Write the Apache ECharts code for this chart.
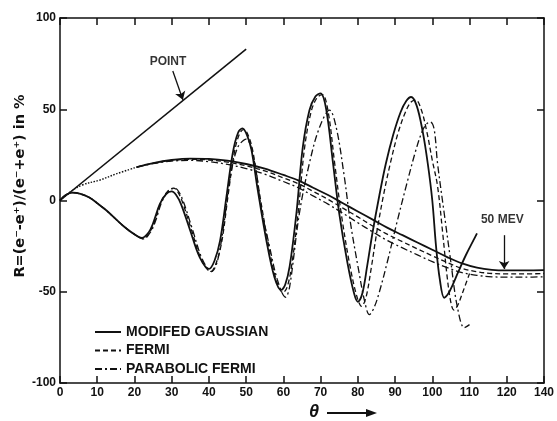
<!DOCTYPE html>
<html>
<head>
<meta charset="utf-8">
<script src="https://cdn.jsdelivr.net/npm/echarts@6/dist/echarts.min.js"></script>
<style>
  html, body { margin: 0; padding: 0; background: #fff; }
  #chart { width: 557px; height: 421px; }
</style>
</head>
<body>
<div id="chart"></div>
<script>
// tick labels (the original figure labels the right edge "140")
var xTickLabels = ['0', '10', '20', '30', '40', '50', '60', '70', '80', '90', '100', '110', '120', '140'];
var legendNames = ['MODIFED GAUSSIAN', 'FERMI', 'PARABOLIC FERMI'];

// point charge line
var pointLine = [[0, 0], [50, 83]];

// smooth 50 MeV curves (dotted common start, then three curves)
var smoothStart = [[0, 0], [2.7, 4.6], [6, 8.5], [10.7, 11.2], [15, 14.5], [20.6, 18.3]];
var smoothGauss = [[20.6, 18.3], [25, 20.5], [30, 22.2], [35, 23], [40, 22.8], [45, 21.8], [50, 20], [55, 17.5], [60, 14], [64, 11], [68, 7], [72, 3], [76, -1.5], [80, -6], [84, -10.5], [88, -15], [92, -19], [96, -23], [100, -27], [104, -31], [108, -34.5], [112, -36.8], [116, -38], [120, -38.3], [125, -38.3], [130, -38.2]];
var smoothFermi = [[20.6, 18.3], [25, 20.4], [30, 22], [35, 22.6], [40, 22.2], [45, 21], [50, 19], [55, 16.2], [60, 12.4], [64, 9.2], [68, 5], [72, 0.6], [76, -4.2], [80, -9], [84, -14], [88, -18.6], [92, -22.6], [96, -26.5], [100, -30.3], [104, -34], [108, -37.2], [112, -39], [116, -40], [120, -40.2], [125, -40.2], [130, -40]];
var smoothParab = [[20.6, 18.3], [25, 20.2], [30, 21.6], [35, 22], [40, 21.3], [45, 19.8], [50, 17.5], [55, 14.4], [60, 10.4], [64, 7], [68, 2.5], [72, -2], [76, -7], [80, -12.2], [84, -17.2], [88, -22], [92, -26], [96, -29.8], [100, -33.5], [104, -36.8], [108, -39.5], [112, -41], [116, -41.8], [120, -42], [125, -42], [130, -41.8]];

// oscillating curves
var oscGauss = [[0, 0], [1.5, 3], [3.5, 4.3], [5.5, 3.6], [8, 1.5], [10, -1.5], [12.5, -5.5], [15.2, -10.6], [17.5, -14.8], [19.6, -18], [22, -20.5], [23.8, -17.5], [25, -12.5], [26.8, -2], [28.5, 3.5], [30, 5], [31.2, 3], [32.5, -2], [34.9, -16], [37.5, -31], [40, -37.5], [41.5, -33], [43, -22], [44.7, 2], [46.4, 26], [47.8, 37], [49, 39.5], [50.2, 36], [51.4, 28], [53.1, 6], [55.4, -21.5], [57.6, -42], [59.4, -49], [60.5, -46], [61.7, -36], [63.5, -7], [65.2, 29], [67, 49.5], [68.6, 57], [70, 58.7], [71.5, 50], [73.3, 21], [75, -7], [77.2, -34], [79, -51], [80, -55.5], [81.2, -51], [82.5, -36], [84, -17], [85.8, 3], [87.5, 20], [89.5, 36], [91.5, 48.5], [93, 54.5], [94.3, 56.7], [95.8, 52], [97.4, 38], [98.8, 20], [100, 0], [101, -25], [102, -43], [103.2, -53.3], [104.3, -51], [105.3, -47], [107, -39], [109, -30], [111, -22], [112, -18]];
var oscFermi = [[0, 0], [1.5, 3], [3.5, 4.3], [5.5, 3.6], [8, 1.5], [10, -1.5], [12.5, -5.5], [15.2, -10.6], [17.5, -14.8], [19.8, -18.3], [22.3, -21], [24.2, -17], [25.5, -11], [27.2, -0.5], [28.9, 5], [30.5, 6.8], [31.7, 4.5], [33, -1.5], [35.3, -16], [37.9, -32], [40.5, -39], [42, -34], [43.5, -22], [45.1, 2], [46.8, 26], [48.2, 36.5], [49.4, 39], [50.6, 35.5], [51.8, 27], [53.5, 5], [55.8, -22], [58, -43], [59.9, -50.5], [61, -47.5], [62.2, -36], [64, -6], [65.7, 29], [67.5, 49], [69.1, 56.5], [70.5, 58], [72, 49], [73.8, 20], [75.6, -8], [77.9, -36], [79.8, -53], [81, -58], [82.2, -53], [83.6, -37], [85.2, -16], [87, 4], [88.8, 21], [90.8, 37], [92.8, 48.5], [94.3, 54], [95.6, 55], [97, 50], [98.5, 38], [100, 22], [101.4, 8], [102.8, -18], [104, -42], [105, -56], [105.8, -60], [106.8, -57.5], [108.4, -49], [110, -40]];
var oscParab = [[0, 0], [1.5, 3], [3.5, 4.3], [5.5, 3.6], [8, 1.5], [10, -1.5], [12.5, -5.5], [15.2, -10.6], [17.5, -14.8], [19.8, -18.3], [22.5, -21], [24.4, -17], [25.7, -11], [27.4, -0.5], [29.1, 5], [30.8, 6.8], [32, 4.5], [33.3, -1.5], [35.6, -16], [38.2, -32], [40.7, -39], [42.3, -33], [44, -13], [45.6, 11], [47.7, 29], [50, 33.6], [52.3, 20.5], [54, -3.5], [56.3, -25.4], [58.4, -43.5], [60.6, -53], [61.7, -47], [64.3, -7], [67, 20.5], [69.7, 40], [72.4, 49.5], [74.2, 40], [76.3, 14], [78, -12], [80.2, -38], [81.8, -55], [83.1, -62.5], [84.3, -59], [85.8, -50], [88, -33], [90.5, -12], [93, 8], [95.5, 27], [97.3, 38], [98.5, 42], [99.5, 43], [100.5, 39], [101.4, 20.5], [103.2, -7], [105, -34], [106.7, -58], [108.6, -69.7], [110, -68]];

// annotations
var pointLabel = [29, 76];
var pointArrow = [[30.3, 71], [33, 55.2]];
var mevLabel = [118.8, -10.7];
var mevArrow = [[119.3, -19], [119.3, -37.5]];

var ink = '#111';
var dashed = [5, 3];
var dashDot = [7, 3, 2, 3];
var font = '"Liberation Sans", Arial, sans-serif';

var chart = echarts.init(document.getElementById('chart'));

function curve(name, data, type, width) {
  return {
    name: name,
    type: 'line',
    data: data,
    symbol: 'none',
    smooth: 0.35,
    lineStyle: { color: ink, width: width, type: type },
    itemStyle: { color: ink },
    z: 3
  };
}

var axisCommon = {
  type: 'value',
  axisLine: { show: true, onZero: false, lineStyle: { color: ink, width: 1.5 } },
  axisTick: { show: true, inside: true, length: 7, lineStyle: { color: ink, width: 1.5 } },
  splitLine: { show: false }
};

var option = {
  animation: false,
  backgroundColor: '#fff',
  grid: { left: 60, right: 12, top: 18, bottom: 38 },
  legend: {
    data: legendNames,
    orient: 'vertical',
    left: 89,
    top: 320,
    itemWidth: 26,
    itemHeight: 14,
    itemGap: 4.5,
    itemStyle: { opacity: 0 },
    textStyle: { color: ink, fontSize: 14, fontWeight: 'bold', fontFamily: font }
  },
  xAxis: [
    Object.assign({}, axisCommon, {
      position: 'bottom', min: 0, max: 130, interval: 10,
      axisLabel: {
        color: ink, fontSize: 12, fontWeight: 'bold', fontFamily: font, margin: 4,
        formatter: function (v) { return xTickLabels[Math.round(v / 10)]; }
      }
    }),
    Object.assign({}, axisCommon, {
      position: 'top', min: 0, max: 130, interval: 10,
      axisLabel: { show: false }
    })
  ],
  yAxis: [
    Object.assign({}, axisCommon, {
      position: 'left', min: -100, max: 100, interval: 50,
      axisLabel: { color: ink, fontSize: 12, fontWeight: 'bold', fontFamily: font, margin: 4 }
    }),
    Object.assign({}, axisCommon, {
      position: 'right', min: -100, max: 100, interval: 50,
      axisLabel: { show: false }
    })
  ],
  graphic: [
    {
      type: 'text', x: 20, y: 186, rotation: Math.PI / 2,
      style: {
        text: 'R=(e\u207B-e\u207A)/(e\u207B+e\u207A) in %',
        font: 'bold 14.5px "DejaVu Sans", sans-serif', fill: ink,
        textAlign: 'center', textVerticalAlign: 'middle'
      }
    },
    {
      type: 'text', x: 314, y: 412,
      style: { text: '\u03B8', font: 'italic bold 18px ' + font, fill: ink, textAlign: 'center', textVerticalAlign: 'middle' }
    },
    {
      type: 'line', shape: { x1: 327, y1: 413, x2: 368, y2: 413 },
      style: { stroke: ink, lineWidth: 2 }
    },
    {
      type: 'polygon', shape: { points: [[366, 409], [377, 413], [366, 417]] },
      style: { fill: ink }
    }
  ],
  series: [
    {
      name: 'POINT', type: 'line', data: pointLine, symbol: 'none',
      lineStyle: { color: ink, width: 1.6 }, z: 3,
      markLine: {
        silent: true, symbol: ['none', 'arrow'], symbolSize: 8,
        label: { show: false },
        lineStyle: { color: ink, width: 1.3, type: 'solid' },
        data: [
          [{ coord: pointArrow[0] }, { coord: pointArrow[1] }],
          [{ coord: mevArrow[0] }, { coord: mevArrow[1] }]
        ]
      }
    },
    {
      name: 'smooth start', type: 'line', data: smoothStart, symbol: 'none', smooth: 0.4,
      lineStyle: { color: ink, width: 1.4, type: [1.5, 1.5] }, z: 3
    },
    curve('smooth MG', smoothGauss, 'solid', 1.8),
    curve('smooth F', smoothFermi, dashed, 1.3),
    curve('smooth PF', smoothParab, dashDot, 1.3),
    curve(legendNames[0], oscGauss, 'solid', 1.8),
    curve(legendNames[1], oscFermi, dashed, 1.3),
    curve(legendNames[2], oscParab, dashDot, 1.3),
    {
      name: 'labels', type: 'scatter', symbolSize: 0, silent: true,
      data: [
        { value: pointLabel, label: { formatter: 'POINT' } },
        { value: mevLabel, label: { formatter: '50 MEV' } }
      ],
      label: {
        show: true, position: 'inside', color: '#000',
        fontSize: 12, fontWeight: 'bold', fontFamily: font
      }
    }
  ]
};

chart.setOption(option);
</script>
</body>
</html>
